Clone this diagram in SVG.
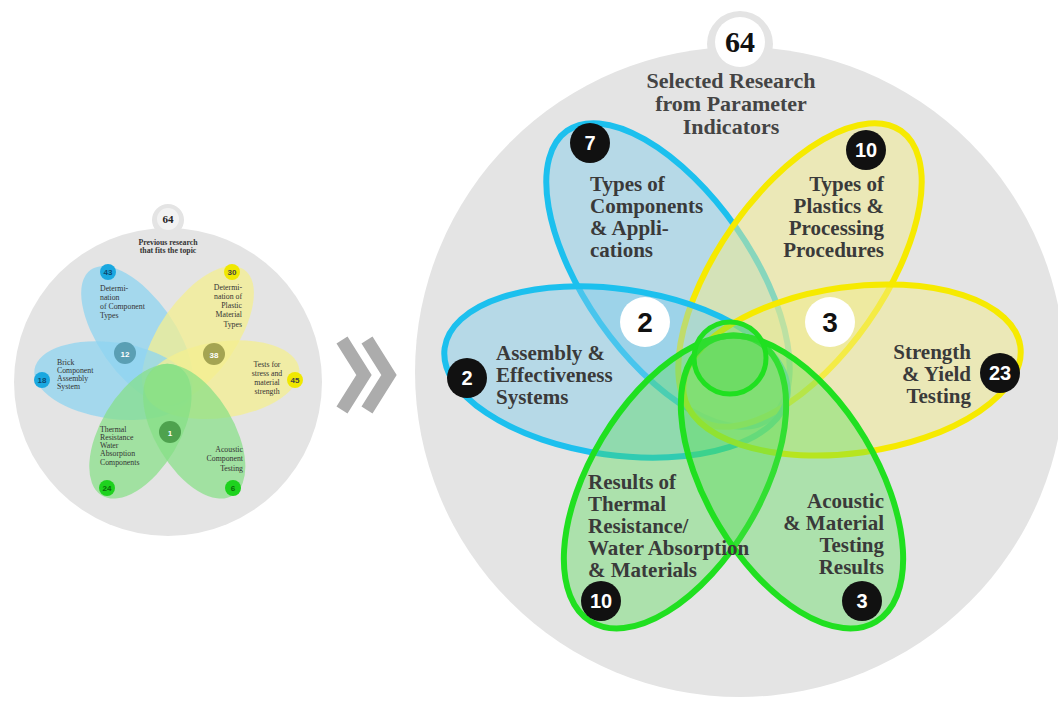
<svg xmlns="http://www.w3.org/2000/svg" width="1058" height="704" viewBox="0 0 1058 704">
<style>
.bg{fill:#e4e4e4}
.pb{fill:#7fcdec;fill-opacity:.45;stroke:#1cc0ee;stroke-width:6}
.py{fill:#f2ec8a;fill-opacity:.5;stroke:#f6ea00;stroke-width:6}
.pg{fill:#52dc52;fill-opacity:.38;stroke:#20e020;stroke-width:6}
.lbl{font-family:"Liberation Serif","Times New Roman",serif;font-weight:bold;font-size:21px;fill:#3a3a3a}
.ttl{font-family:"Liberation Serif","Times New Roman",serif;font-weight:bold;font-size:22px;fill:#444}
.bk{fill:#111}
.bkt{font-family:"Liberation Sans",Arial,sans-serif;font-weight:bold;font-size:20px;fill:#fff;text-anchor:middle}
.wt{font-family:"Liberation Sans",Arial,sans-serif;font-weight:bold;font-size:28px;fill:#111;text-anchor:middle}
.sb{fill:#8fd4f0;fill-opacity:.75}
.sy{fill:#f4ef90;fill-opacity:.75}
.sg{fill:#84e084;fill-opacity:.7}
.st{font-family:"Liberation Serif","Times New Roman",serif;font-size:7.8px;fill:#333}
.sn{font-family:"Liberation Sans",Arial,sans-serif;font-weight:bold;font-size:8px;text-anchor:middle}
.chev{fill:none;stroke:#acacac;stroke-width:13}
</style>

<g id="small-diagram">
  <circle class="bg" cx="168" cy="220" r="16"/>
  <circle class="bg" cx="168" cy="382" r="154"/>
  <circle cx="168" cy="219" r="11" fill="#f2f2f2"/>
  <g transform="translate(-170.1,209.5) scale(0.46)">
    <ellipse class="sb" cx="668" cy="275" rx="176" ry="83" transform="rotate(55 668 275)"/>
    <ellipse class="sy" cx="800" cy="275" rx="176" ry="83" transform="rotate(-55 800 275)"/>
    <ellipse class="sb" cx="616" cy="372" rx="173" ry="83" transform="rotate(8 616 372)"/>
    <ellipse class="sy" cx="852" cy="370" rx="170" ry="83" transform="rotate(-8 852 370)"/>
    <ellipse class="sg" cx="675" cy="482" rx="163" ry="85" transform="rotate(-59 675 482)"/>
    <ellipse class="sg" cx="792" cy="482" rx="163" ry="85" transform="rotate(59 792 482)"/>
  </g>
  <text x="168" y="223" font-family="Liberation Serif,serif" font-weight="bold" font-size="11" fill="#222" text-anchor="middle">64</text>
  <text class="st" font-weight="bold" text-anchor="middle"><tspan x="168" y="245">Previous research</tspan><tspan x="168" y="253">that fits the topic</tspan></text>

  <circle cx="108" cy="272" r="8" fill="#1aa8e0"/><text class="sn" x="108" y="275" fill="#0c4a70">43</text>
  <circle cx="232" cy="272" r="8" fill="#f0e800"/><text class="sn" x="232" y="275" fill="#444">30</text>
  <circle cx="42" cy="380" r="8" fill="#1aa8e0"/><text class="sn" x="42" y="383" fill="#0c4a70">18</text>
  <circle cx="295" cy="380" r="8" fill="#f0e800"/><text class="sn" x="295" y="383" fill="#444">45</text>
  <circle cx="107" cy="488" r="8" fill="#1ed21e"/><text class="sn" x="107" y="491" fill="#0a6a0a">24</text>
  <circle cx="233" cy="488" r="8" fill="#1ed21e"/><text class="sn" x="233" y="491" fill="#0a6a0a">6</text>
  <circle cx="125" cy="353" r="11" fill="#5a9fb4"/><text class="sn" x="125" y="357" fill="#fff" font-size="10">12</text>
  <circle cx="214" cy="354" r="11" fill="#a4a452"/><text class="sn" x="214" y="358" fill="#fff" font-size="10">38</text>
  <circle cx="170" cy="432" r="11" fill="#4ea24e"/><text class="sn" x="170" y="436" fill="#fff" font-size="10">1</text>

  <text class="st"><tspan x="100" y="291">Determi-</tspan><tspan x="100" y="300">nation</tspan><tspan x="100" y="309">of Component</tspan><tspan x="100" y="318">Types</tspan></text>
  <text class="st" text-anchor="end"><tspan x="242" y="290">Determi-</tspan><tspan x="242" y="299">nation of</tspan><tspan x="242" y="308">Plastic</tspan><tspan x="242" y="317">Material</tspan><tspan x="242" y="327">Types</tspan></text>
  <text class="st"><tspan x="57" y="365">Brick</tspan><tspan x="57" y="373">Component</tspan><tspan x="57" y="381">Assembly</tspan><tspan x="57" y="389">System</tspan></text>
  <text class="st" text-anchor="middle"><tspan x="267" y="367">Tests for</tspan><tspan x="267" y="376">stress and</tspan><tspan x="267" y="385">material</tspan><tspan x="267" y="394">strength</tspan></text>
  <text class="st"><tspan x="100" y="432">Thermal</tspan><tspan x="100" y="440">Resistance</tspan><tspan x="100" y="448">Water</tspan><tspan x="100" y="456">Absorption</tspan><tspan x="100" y="465">Components</tspan></text>
  <text class="st" text-anchor="end"><tspan x="243" y="452">Acoustic</tspan><tspan x="243" y="461">Component</tspan><tspan x="243" y="471">Testing</tspan></text>
</g>

<g id="arrow">
  <polyline class="chev" points="342,340 364,375 342,410"/>
  <polyline class="chev" points="367,340 389,375 367,410"/>
</g>

<g id="background">
  <circle class="bg" cx="740" cy="44" r="33"/>
  <circle class="bg" cx="740" cy="372" r="325"/>
  <circle cx="740" cy="42" r="25" fill="#fff"/>
  <text x="740" y="52" font-family="Liberation Serif,serif" font-weight="bold" font-size="30" fill="#111" text-anchor="middle">64</text>
  <text class="ttl" text-anchor="middle"><tspan x="731" y="88">Selected Research</tspan><tspan x="731" y="111">from Parameter</tspan><tspan x="731" y="134">Indicators</tspan></text>
</g>

<g id="connectors">
  <ellipse id="petal-components" class="pb" cx="668" cy="275" rx="176" ry="83" transform="rotate(55 668 275)"/>
  <ellipse id="petal-plastics" class="py" cx="800" cy="275" rx="176" ry="83" transform="rotate(-55 800 275)"/>
  <ellipse id="petal-assembly" class="pb" cx="616" cy="372" rx="173" ry="83" transform="rotate(8 616 372)"/>
  <ellipse id="petal-strength" class="py" cx="852" cy="370" rx="170" ry="83" transform="rotate(-8 852 370)"/>
  <ellipse id="petal-thermal" class="pg" cx="675" cy="482" rx="163" ry="85" transform="rotate(-59 675 482)"/>
  <ellipse id="petal-acoustic" class="pg" cx="792" cy="482" rx="163" ry="85" transform="rotate(59 792 482)"/>
  <circle cx="730" cy="358" r="36" fill="#4ad84a" fill-opacity=".35" stroke="#20e020" stroke-width="5"/>
</g>

<g id="node-components">
  <circle class="bk" cx="590" cy="143" r="20"/><text class="bkt" x="590" y="150">7</text>
  <text class="lbl"><tspan x="590" y="191">Types of</tspan><tspan x="590" y="213">Components</tspan><tspan x="590" y="235">&amp; Appli-</tspan><tspan x="590" y="257">cations</tspan></text>
</g>
<g id="node-plastics">
  <circle class="bk" cx="866" cy="150" r="20"/><text class="bkt" x="866" y="157">10</text>
  <text class="lbl" text-anchor="end"><tspan x="884" y="191">Types of</tspan><tspan x="884" y="213">Plastics &amp;</tspan><tspan x="884" y="235">Processing</tspan><tspan x="884" y="257">Procedures</tspan></text>
</g>
<g id="node-assembly">
  <circle class="bk" cx="467" cy="378" r="20"/><text class="bkt" x="467" y="385">2</text>
  <text class="lbl"><tspan x="496" y="360">Assembly &amp;</tspan><tspan x="496" y="382">Effectiveness</tspan><tspan x="496" y="404">Systems</tspan></text>
</g>
<g id="node-strength">
  <circle class="bk" cx="1000" cy="373" r="20"/><text class="bkt" x="1000" y="380">23</text>
  <text class="lbl" text-anchor="end"><tspan x="971" y="359">Strength</tspan><tspan x="971" y="381">&amp; Yield</tspan><tspan x="971" y="403">Testing</tspan></text>
</g>
<g id="node-thermal">
  <circle class="bk" cx="601" cy="601" r="20"/><text class="bkt" x="601" y="608">10</text>
  <text class="lbl"><tspan x="588" y="489">Results of</tspan><tspan x="588" y="511">Thermal</tspan><tspan x="588" y="533">Resistance/</tspan><tspan x="588" y="555">Water Absorption</tspan><tspan x="588" y="577">&amp; Materials</tspan></text>
</g>
<g id="node-acoustic">
  <circle class="bk" cx="862" cy="601" r="20"/><text class="bkt" x="862" y="608">3</text>
  <text class="lbl" text-anchor="end"><tspan x="884" y="508">Acoustic</tspan><tspan x="884" y="530">&amp; Material</tspan><tspan x="884" y="552">Testing</tspan><tspan x="884" y="574">Results</tspan></text>
</g>
<g id="node-overlap-left">
  <circle cx="645" cy="322" r="25" fill="#fff"/><text class="wt" x="645" y="332">2</text>
</g>
<g id="node-overlap-right">
  <circle cx="830" cy="322" r="25" fill="#fff"/><text class="wt" x="830" y="332">3</text>
</g>
</svg>
